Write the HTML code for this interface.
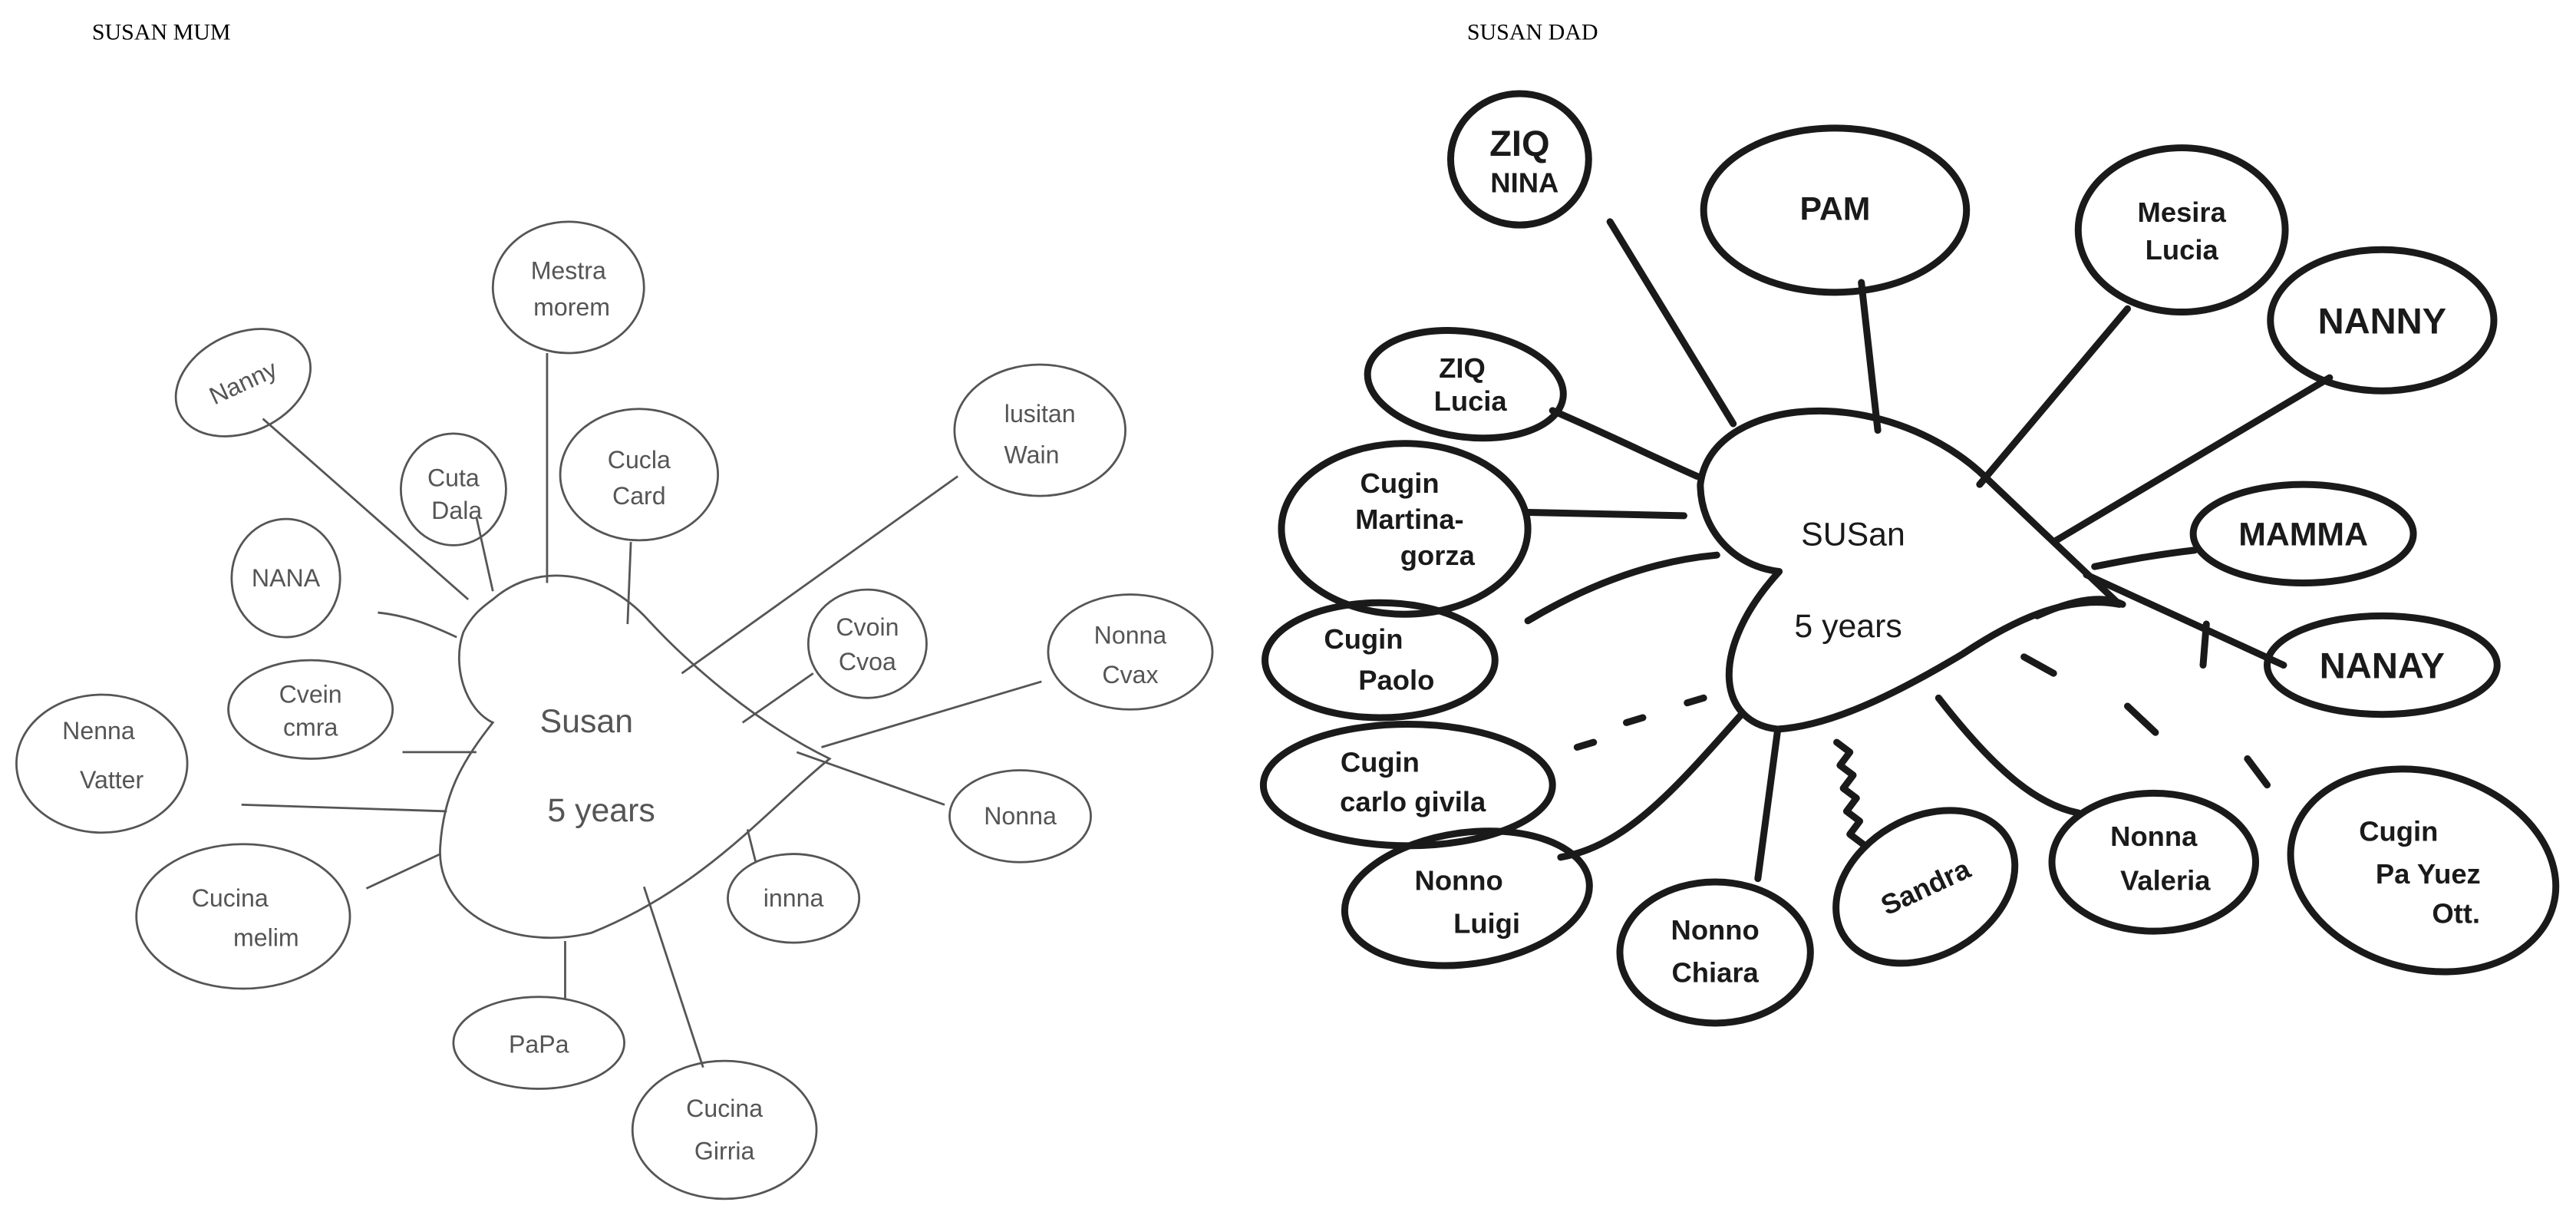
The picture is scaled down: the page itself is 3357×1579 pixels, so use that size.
<!DOCTYPE html>
<html><head><meta charset="utf-8"><style>
html,body{margin:0;padding:0;background:#fff;}
svg{display:block;}
.l{fill:none;stroke:#555;stroke-width:1.3;}
.lt{font-family:"Liberation Sans",sans-serif;font-size:15px;fill:#555;text-anchor:middle;}
.r{fill:none;stroke:#1a1a1a;stroke-width:4.2;stroke-linecap:round;stroke-linejoin:round;}
.rt{font-family:"Liberation Sans",sans-serif;font-size:17px;font-weight:bold;fill:#1a1a1a;text-anchor:middle;}
.ti{font-family:"Liberation Serif",serif;font-size:14px;fill:#000;}
</style></head><body>
<svg width="3357" height="1579" viewBox="0 0 1568 738" preserveAspectRatio="none" xmlns="http://www.w3.org/2000/svg">
<text class="ti" x="56" y="24">SUSAN MUM</text>
<text class="ti" x="893" y="24">SUSAN DAD</text>

<!-- LEFT -->
<g>
<path class="l" d="M300,365 C325,343 365,345 395,378 C420,405 460,440 505,462 C470,490 430,540 360,568 C310,580 265,555 268,515 C270,485 280,465 300,440 C283,432 275,405 282,385 C287,375 293,370 300,365 Z"/>
<text class="lt" x="357" y="446" style="font-size:20px">Susan</text>
<text class="lt" x="366" y="500" style="font-size:20px">5 years</text>
<!-- lines -->
<path class="l" d="M160,255 L285,365 M333,215 L333,355 M290,315 L300,360 M384,330 L382,380 M583,290 L415,410 M230,373 C250,375 265,382 278,388 M245,458 L290,458 M147,490 L272,494 M223,541 L268,520 M344,573 L344,608 M392,540 L428,650 M455,505 L460,525 M485,458 L575,490 M500,455 L634,415 M452,440 L495,410"/>
<!-- nodes -->
<ellipse class="l" cx="148" cy="233" rx="43" ry="30" transform="rotate(-25 148 233)"/><text class="lt" x="148" y="238" transform="rotate(-25 148 233)">Nanny</text>
<ellipse class="l" cx="346" cy="175" rx="46" ry="40"/><text class="lt" x="346" y="170">Mestra</text><text class="lt" x="348" y="192">morem</text>
<ellipse class="l" cx="389" cy="289" rx="48" ry="40"/><text class="lt" x="389" y="285">Cucla</text><text class="lt" x="389" y="307">Card</text>
<ellipse class="l" cx="633" cy="262" rx="52" ry="40"/><text class="lt" x="633" y="257">lusitan</text><text class="lt" x="628" y="282">Wain</text>
<ellipse class="l" cx="276" cy="298" rx="32" ry="34"/><text class="lt" x="276" y="296">Cuta</text><text class="lt" x="278" y="316">Dala</text>
<ellipse class="l" cx="174" cy="352" rx="33" ry="36"/><text class="lt" x="174" y="357">NANA</text>
<ellipse class="l" cx="528" cy="392" rx="36" ry="33"/><text class="lt" x="528" y="387">Cvoin</text><text class="lt" x="528" y="408">Cvoa</text>
<ellipse class="l" cx="688" cy="397" rx="50" ry="35"/><text class="lt" x="688" y="392">Nonna</text><text class="lt" x="688" y="416">Cvax</text>
<ellipse class="l" cx="189" cy="432" rx="50" ry="30"/><text class="lt" x="189" y="428">Cvein</text><text class="lt" x="189" y="448">cmra</text>
<ellipse class="l" cx="62" cy="465" rx="52" ry="42"/><text class="lt" x="60" y="450">Nenna</text><text class="lt" x="68" y="480">Vatter</text>
<ellipse class="l" cx="621" cy="497" rx="43" ry="28"/><text class="lt" x="621" y="502">Nonna</text>
<ellipse class="l" cx="483" cy="547" rx="40" ry="27"/><text class="lt" x="483" y="552">innna</text>
<ellipse class="l" cx="148" cy="558" rx="65" ry="44"/><text class="lt" x="140" y="552">Cucina</text><text class="lt" x="162" y="576">melim</text>
<ellipse class="l" cx="328" cy="635" rx="52" ry="28"/><text class="lt" x="328" y="641">PaPa</text>
<ellipse class="l" cx="441" cy="688" rx="56" ry="42"/><text class="lt" x="441" y="680">Cucina</text><text class="lt" x="441" y="706">Girria</text>
</g>

<!-- RIGHT -->
<g>
<path class="r" d="M1058,262 C1100,238 1170,252 1210,292 L1290,368 C1258,362 1225,378 1195,398 C1155,422 1115,442 1082,444 C1045,440 1040,395 1083,348 C1055,345 1035,322 1035,295 C1037,278 1048,268 1058,262 Z"/>
<path class="r" d="M1240,375 C1262,365 1280,362 1292,368"/>
<text class="rt" x="1128" y="332" style="font-weight:normal;font-size:20px">SUSan</text>
<text class="rt" x="1125" y="388" style="font-weight:normal;font-size:20px">5 years</text>
<!-- lines -->
<path class="r" d="M980,135 L1055,258 M1133,172 L1143,262 M1295,188 L1205,295 M1418,230 L1250,330 M1336,335 C1310,338 1290,342 1275,345 M1270,350 L1390,405 M1343,380 L1341,405 M945,250 C980,265 1010,280 1033,290 M930,312 L1025,314 M930,378 C960,360 1000,342 1045,338 M1060,435 C1020,480 990,515 950,522 M1070,535 L1082,445 M1180,425 C1215,470 1240,490 1265,495"/>
<path class="r" d="M960,455 L970,452 M990,440 L1000,437 M1027,428 L1037,425 M1232,400 L1250,410 M1295,430 L1312,446 M1368,462 L1380,478"/>
<path class="r" d="M1118,452 l8,6 -6,8 8,6 -6,8 8,6 -6,8 8,6 -6,8 8,6"/>
<!-- nodes -->
<ellipse class="r" cx="925" cy="97" rx="42" ry="40"/><text class="rt" x="925" y="95" style="font-size:22px">ZIQ</text><text class="rt" x="928" y="117">NINA</text>
<ellipse class="r" cx="1117" cy="128" rx="80" ry="50"/><text class="rt" x="1117" y="134" style="font-size:20px">PAM</text>
<ellipse class="r" cx="1328" cy="140" rx="63" ry="50"/><text class="rt" x="1328" y="135">Mesira</text><text class="rt" x="1328" y="158">Lucia</text>
<ellipse class="r" cx="1450" cy="195" rx="68" ry="43"/><text class="rt" x="1450" y="203" style="font-size:22px">NANNY</text>
<ellipse class="r" cx="892" cy="234" rx="60" ry="32" transform="rotate(8 892 234)"/><text class="rt" x="890" y="230">ZIQ</text><text class="rt" x="895" y="250">Lucia</text>
<ellipse class="r" cx="855" cy="322" rx="75" ry="52"/><text class="rt" x="852" y="300">Cugin</text><text class="rt" x="858" y="322">Martina-</text><text class="rt" x="875" y="344">gorza</text>
<ellipse class="r" cx="1402" cy="325" rx="67" ry="30"/><text class="rt" x="1402" y="332" style="font-size:20px">MAMMA</text>
<ellipse class="r" cx="840" cy="402" rx="70" ry="35"/><text class="rt" x="830" y="395">Cugin</text><text class="rt" x="850" y="420">Paolo</text>
<ellipse class="r" cx="1450" cy="405" rx="70" ry="30"/><text class="rt" x="1450" y="413" style="font-size:22px">NANAY</text>
<ellipse class="r" cx="857" cy="478" rx="88" ry="37"/><text class="rt" x="840" y="470">Cugin</text><text class="rt" x="860" y="494">carlo givila</text>
<ellipse class="r" cx="893" cy="547" rx="75" ry="40" transform="rotate(-8 893 547)"/><text class="rt" x="888" y="542">Nonno</text><text class="rt" x="905" y="568">Luigi</text>
<ellipse class="r" cx="1044" cy="580" rx="58" ry="43"/><text class="rt" x="1044" y="572">Nonno</text><text class="rt" x="1044" y="598">Chiara</text>
<ellipse class="r" cx="1172" cy="540" rx="58" ry="42" transform="rotate(-30 1172 540)"/><text class="rt" x="1172" y="546" transform="rotate(-25 1172 540)">Sandra</text>
<ellipse class="r" cx="1311" cy="525" rx="62" ry="42"/><text class="rt" x="1311" y="515">Nonna</text><text class="rt" x="1318" y="542">Valeria</text>
<ellipse class="r" cx="1475" cy="530" rx="82" ry="60" transform="rotate(15 1475 530)"/><text class="rt" x="1460" y="512">Cugin</text><text class="rt" x="1478" y="538">Pa Yuez</text><text class="rt" x="1495" y="562">Ott.</text>
</g>
</svg>
</body></html>
